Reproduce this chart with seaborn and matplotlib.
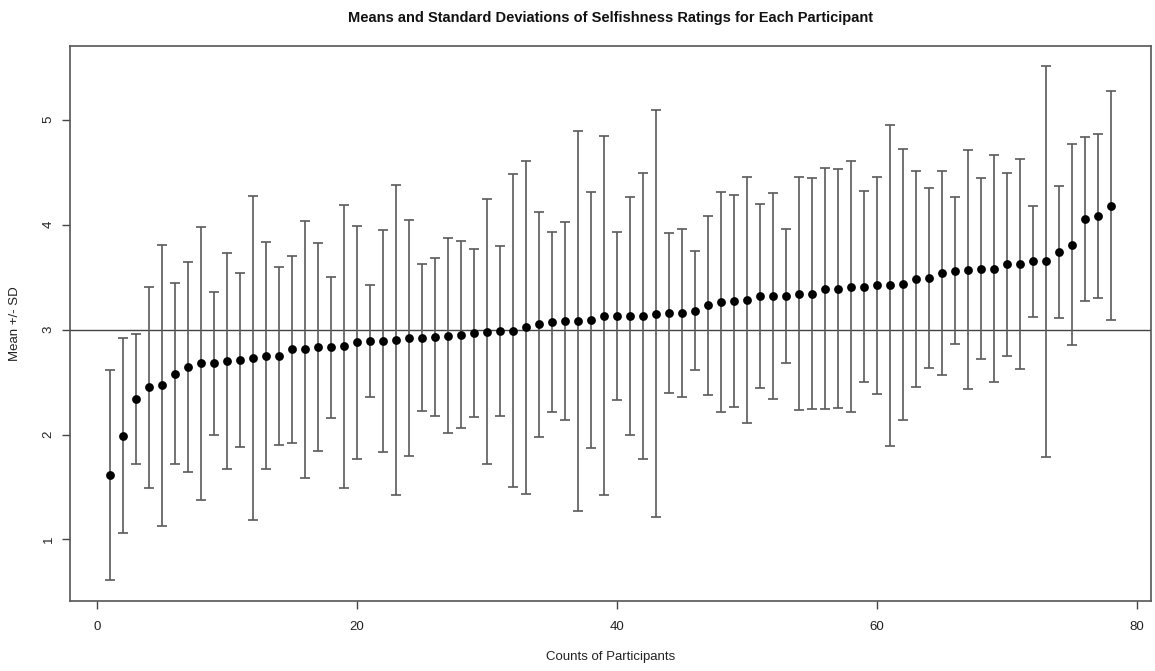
import numpy as np
import pandas as pd
import matplotlib
matplotlib.use("Agg")
import matplotlib.pyplot as plt
import seaborn as sns

# ---- data ----
participants = list(range(1, 79))
means = [1.61, 1.99, 2.34, 2.45, 2.47, 2.58, 2.64, 2.68, 2.68, 2.70,
         2.71, 2.73, 2.75, 2.75, 2.81, 2.81, 2.83, 2.83, 2.84, 2.88,
         2.89, 2.89, 2.90, 2.92, 2.92, 2.93, 2.94, 2.95, 2.97, 2.98,
         2.99, 2.99, 3.02, 3.05, 3.07, 3.08, 3.08, 3.09, 3.13, 3.13,
         3.13, 3.13, 3.15, 3.16, 3.16, 3.18, 3.23, 3.26, 3.27, 3.28,
         3.32, 3.32, 3.32, 3.34, 3.34, 3.39, 3.39, 3.41, 3.41, 3.42,
         3.42, 3.43, 3.48, 3.49, 3.54, 3.56, 3.57, 3.58, 3.58, 3.62,
         3.62, 3.65, 3.65, 3.74, 3.81, 4.05, 4.08, 4.18]
sds = [1.00, 0.93, 0.62, 0.96, 1.34, 0.86, 1.00, 1.30, 0.68, 1.03,
       0.83, 1.54, 1.08, 0.85, 0.89, 1.22, 0.99, 0.67, 1.35, 1.11,
       0.53, 1.06, 1.48, 1.12, 0.70, 0.75, 0.93, 0.89, 0.80, 1.26,
       0.81, 1.49, 1.59, 1.07, 0.86, 0.94, 1.81, 1.22, 1.71, 0.80,
       1.13, 1.36, 1.94, 0.76, 0.80, 0.57, 0.85, 1.05, 1.01, 1.17,
       0.88, 0.98, 0.64, 1.11, 1.10, 1.15, 1.14, 1.20, 0.91, 1.03,
       1.53, 1.29, 1.03, 0.86, 0.97, 0.70, 1.14, 0.86, 1.08, 0.87,
       1.00, 0.53, 1.86, 0.63, 0.96, 0.78, 0.78, 1.09]
reference_value = 3
x_ticks = [0, 20, 40, 60, 80]
y_ticks = [1, 2, 3, 4, 5]

title = "Means and Standard Deviations of Selfishness Ratings for Each Participant"
xlabel = "Counts of Participants"
ylabel = "Mean +/- SD"

df = pd.DataFrame({"participant": participants, "mean": means, "sd": sds})

sns.set_style("white")
plt.rcParams["font.family"] = ["Liberation Sans", "DejaVu Sans"]

W, H = 1155, 671
L, R, T, B = 70, 1151, 45.5, 601
fig = plt.figure(figsize=(W / 100, H / 100), dpi=100)
ax = fig.add_axes([L / W, (H - B) / H, (R - L) / W, (B - T) / H])

ax.errorbar(df["participant"], df["mean"], yerr=df["sd"], fmt="none",
            ecolor="#5a5a5a", elinewidth=1.2, capsize=3.5, capthick=1.2, zorder=2)
sns.scatterplot(data=df, x="participant", y="mean", ax=ax, color="black",
                s=40, edgecolor="black", linewidth=0, zorder=3)
ax.axhline(reference_value, color="#444444", linewidth=1.0, zorder=1)

lo = min(m - s for m, s in zip(means, sds))
hi = max(m + s for m, s in zip(means, sds))
pad_y = 0.04 * (hi - lo)
pad_x = 0.04 * (max(participants) - min(participants))
ax.set_xlim(min(participants) - pad_x, max(participants) + pad_x)
ax.set_ylim(lo - pad_y, hi + pad_y)

ax.set_xticks(x_ticks)
ax.set_yticks(y_ticks)
ax.set_xticklabels([str(t) for t in x_ticks], fontsize=9.5, color="#222222")
ax.set_yticklabels([str(t) for t in y_ticks], fontsize=9.5, color="#222222",
                   rotation=90, va="center")
ax.tick_params(axis="both", direction="out", length=6, width=1, color="#444444",
               bottom=True, left=True)
ax.tick_params(axis="x", pad=8.5)
ax.tick_params(axis="y", pad=5)

for sp in ax.spines.values():
    sp.set_visible(True)
    sp.set_color("#555555")
    sp.set_linewidth(1.2)

ax.set_xlabel(xlabel, fontsize=9.5, color="#222222")
ax.set_ylabel(ylabel, fontsize=9.5, color="#222222", va="center")
ax.xaxis.set_label_coords(0.5, -(657 - B) / (B - T))
ax.xaxis.label.set_va("center")
ax.yaxis.set_label_coords(-(L - 15) / (R - L), 0.5)
fig.suptitle(title, fontsize=10.5, fontweight="bold", color="#111111", y=1 - 18 / H,
             x=(L + R) / 2 / W, va="center")

fig.savefig("out.png", dpi=100, facecolor="white")
